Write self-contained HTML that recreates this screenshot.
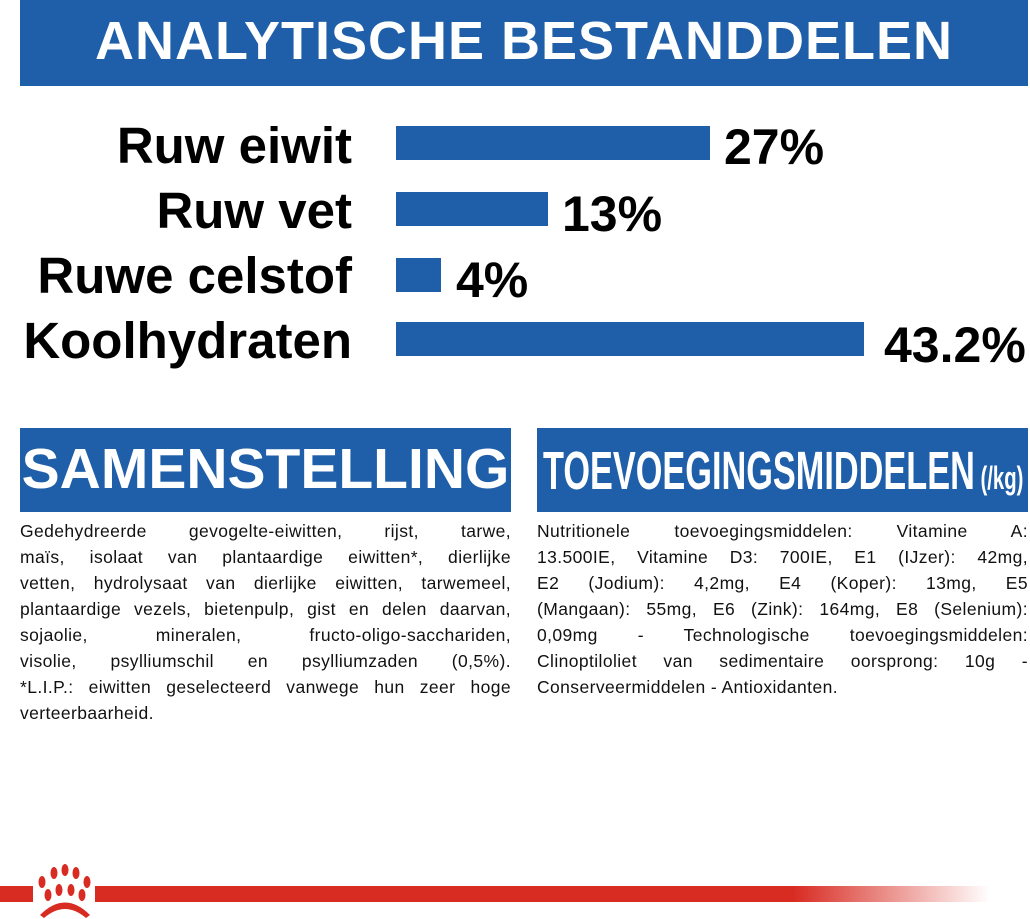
<!DOCTYPE html>
<html><head><meta charset="utf-8"><style>
body{margin:0;width:1030px;height:919px;background:#fff;position:relative;overflow:hidden;font-family:"Liberation Sans",sans-serif}
.abs{position:absolute}
.blue{background:#1f5fa9}
.lab{position:absolute;right:678px;font-weight:bold;font-size:51px;line-height:1;color:#000;white-space:nowrap}
.val{position:absolute;font-weight:bold;font-size:50px;line-height:1;color:#000}
.bar{position:absolute;left:396px;height:34px;background:#1f5fa9}
.txt{position:absolute;top:518px;width:491px;font-size:17.5px;letter-spacing:0.4px;line-height:26px;color:#111}
.txt div{text-align:justify;text-align-last:justify;white-space:nowrap;height:26px}
.txt div.l{text-align-last:left}
</style></head><body>
<div class="abs blue" style="left:20px;top:0;width:1008px;height:86px"></div>
<div class="abs" style="left:20px;top:14px;width:1008px;text-align:center;color:#fff;font-weight:bold;font-size:54px;line-height:1;letter-spacing:1px">ANALYTISCHE BESTANDDELEN</div>

<div class="lab" style="top:120px">Ruw eiwit</div>
<div class="lab" style="top:185px">Ruw vet</div>
<div class="lab" style="top:250px">Ruwe celstof</div>
<div class="lab" style="top:315px">Koolhydraten</div>
<div class="bar" style="top:126px;width:314px"></div>
<div class="bar" style="top:192px;width:152px"></div>
<div class="bar" style="top:258px;width:45px"></div>
<div class="bar" style="top:322px;width:468px"></div>
<div class="val" style="left:724px;top:122px">27%</div>
<div class="val" style="left:562px;top:189px">13%</div>
<div class="val" style="left:456px;top:255px">4%</div>
<div class="val" style="left:884px;top:320px">43.2%</div>

<div class="abs blue" style="left:20px;top:428px;width:491px;height:84px"></div>
<div class="abs" style="left:20px;top:441px;width:491px;text-align:center;color:#fff;font-weight:bold;font-size:57px;line-height:1">SAMENSTELLING</div>
<div class="abs blue" style="left:537px;top:428px;width:491px;height:84px"></div>
<div class="abs" style="left:543px;top:444px;color:#fff;font-weight:bold;font-size:54px;line-height:1;white-space:nowrap;transform:scaleX(0.635);transform-origin:0 0">TOEVOEGINGSMIDDELEN<span style="font-size:32px"> (/kg)</span></div>

<div class="txt" style="left:20px">
<div>Gedehydreerde gevogelte-eiwitten, rijst, tarwe,</div>
<div>maïs, isolaat van plantaardige eiwitten*, dierlijke</div>
<div>vetten, hydrolysaat van dierlijke eiwitten, tarwemeel,</div>
<div>plantaardige vezels, bietenpulp, gist en delen daarvan,</div>
<div>sojaolie, mineralen, fructo-oligo-sacchariden,</div>
<div>visolie, psylliumschil en psylliumzaden (0,5%).</div>
<div>*L.I.P.: eiwitten geselecteerd vanwege hun zeer hoge</div>
<div class="l">verteerbaarheid.</div>
</div>
<div class="txt" style="left:537px">
<div>Nutritionele toevoegingsmiddelen: Vitamine A:</div>
<div>13.500IE, Vitamine D3: 700IE, E1 (IJzer): 42mg,</div>
<div>E2 (Jodium): 4,2mg, E4 (Koper): 13mg, E5</div>
<div>(Mangaan): 55mg, E6 (Zink): 164mg, E8 (Selenium):</div>
<div>0,09mg - Technologische toevoegingsmiddelen:</div>
<div>Clinoptiloliet van sedimentaire oorsprong: 10g -</div>
<div class="l">Conserveermiddelen - Antioxidanten.</div>
</div>

<div class="abs" style="left:0;top:886px;width:33px;height:16px;background:#d82b22"></div>
<div class="abs" style="left:95px;top:886px;width:895px;height:16px;background:linear-gradient(to right,#d82b22 0,#d82b22 78%,rgba(216,43,34,0) 100%)"></div>
<svg class="abs" style="left:30px;top:860px" width="70" height="59" viewBox="0 0 70 59">
<g fill="#d82b22">
<ellipse cx="12" cy="22" rx="3.5" ry="6"/><ellipse cx="24" cy="13" rx="3.5" ry="6"/><ellipse cx="35" cy="10" rx="3.5" ry="6"/><ellipse cx="46" cy="13" rx="3.5" ry="6"/><ellipse cx="57" cy="22" rx="3.5" ry="6"/>
<ellipse cx="18" cy="35" rx="3.5" ry="6"/><ellipse cx="29" cy="30" rx="3.5" ry="6"/><ellipse cx="41" cy="30" rx="3.5" ry="6"/><ellipse cx="52" cy="35" rx="3.5" ry="6"/>
<path d="M10 55 Q35 30 60 55 L56 58 Q35 40 14 58Z"/>
</g></svg>
</body></html>
